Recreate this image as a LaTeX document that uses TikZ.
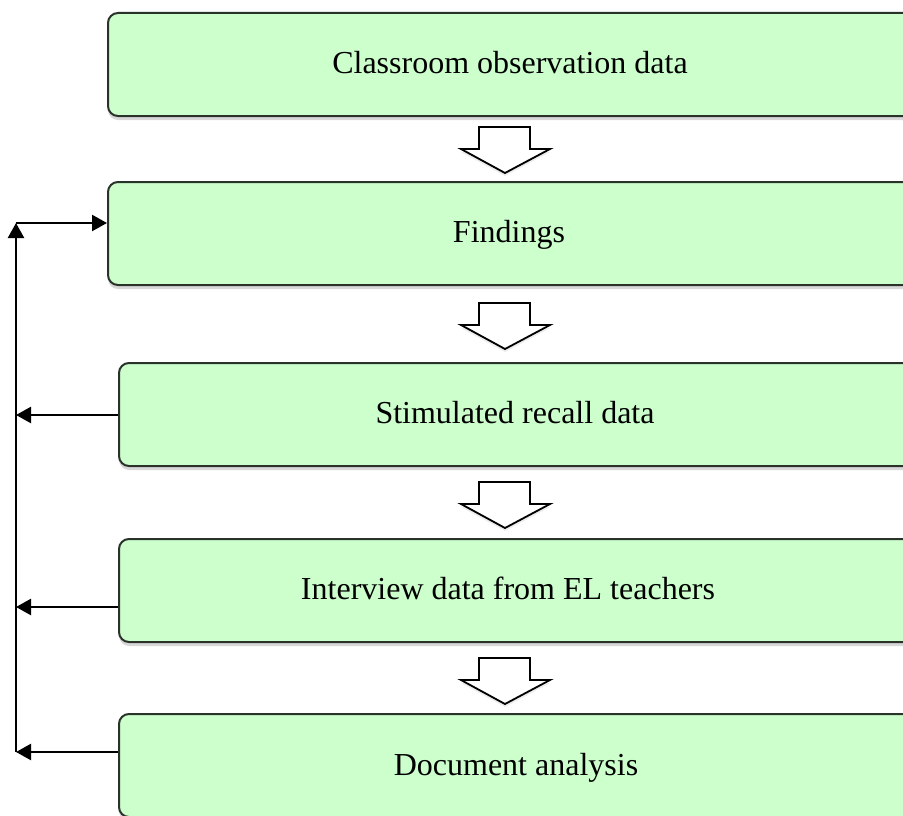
\documentclass[tikz,border=0pt]{standalone}
\usepackage{fontspec}
\setmainfont{Liberation Serif}
\usetikzlibrary{arrows.meta,shadows,calc}
\definecolor{boxfill}{HTML}{CCFFCC}
\definecolor{boxline}{HTML}{2A332A}
\tikzset{
  box/.style={draw=boxline, line width=2pt, fill=boxfill, rounded corners=10pt,
    minimum height=103pt, anchor=north west, inner sep=0pt,
    drop shadow={shadow xshift=0pt, shadow yshift=-4pt, opacity=0.3}},
  lbl/.style={font=\fontsize{32}{38}\selectfont, text=black, inner sep=0pt, anchor=base},
  hollow/.style={draw=black, line width=1.8pt, fill=white, line join=miter,
    drop shadow={shadow xshift=0pt, shadow yshift=-3pt, opacity=0.15}},
  fb/.style={draw=black, line width=2.4pt, -{Triangle[length=15pt,width=16pt]}},
}
\begin{document}
\begin{tikzpicture}[x=1pt,y=-1pt]
\useasboundingbox (0,0) rectangle (903,816);
\fill[white] (0,0) rectangle (903,816);
\clip (0,0) rectangle (903,816);
% boxes
\node[box, minimum width=830pt] (b1) at (107,12) {};
\node[box, minimum width=830pt] (b2) at (107,181) {};
\node[box, minimum width=820pt] (b3) at (118,362) {};
\node[box, minimum width=820pt] (b4) at (118,538) {};
\node[box, minimum width=820pt] (b5) at (118,713) {};
% labels
\node[lbl] (t1) at (510,74) {Classroom observation data};
\node[lbl] (t2) at (509,242) {Findings};
\node[lbl] (t3) at (515,423) {Stimulated recall data};
\node[lbl] (t4) at (508,599) {Interview data from EL teachers};
\node[lbl] (t5) at (516,775) {Document analysis};
% hollow arrows
\foreach \y in {127,303,482,658}{
  \draw[hollow] (479,\y) -- (530,\y) -- (530,\y+22) -- (550,\y+22) -- (505,\y+46)
     -- (461,\y+22) -- (479,\y+22) -- cycle;
}
% feedback connectors
\coordinate (bustop) at (16,223);
\coordinate (busbot) at (16,752);
\draw[fb] (busbot) -- (bustop);
\draw[fb] (bustop) -- (b2.west |- bustop);
\draw[fb] (b3.west |- 0,415) -- (bustop |- 0,415);
\draw[fb] (b4.west |- 0,607) -- (bustop |- 0,607);
\draw[fb] (b5.west |- busbot) -- (busbot);
\end{tikzpicture}
\end{document}
